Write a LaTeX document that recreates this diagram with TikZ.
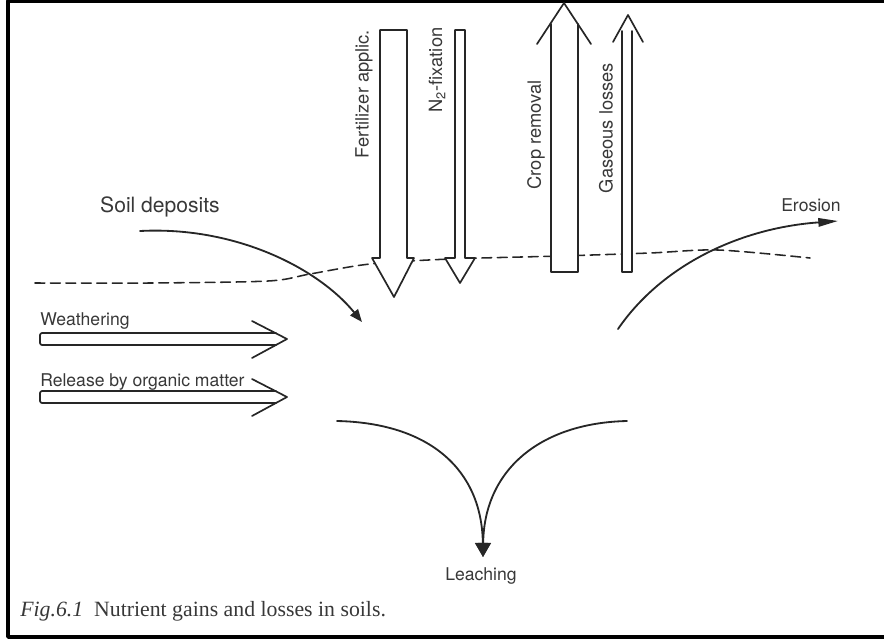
\documentclass[tikz,border=0pt]{standalone}
\usepackage{fontspec}
\setmainfont{TeX Gyre Heros}
\newfontfamily\capfont{Liberation Serif}
\usetikzlibrary{arrows.meta}
\definecolor{ink}{gray}{0.22}

\tikzset{
  lbl/.style={text=ink, font=\fontsize{12.5}{15}\selectfont, inner sep=0pt},
  vlbl/.style={lbl, rotate=90, font=\fontsize{13}{15}\selectfont},
  hollow/.style={draw=black!85, line width=1.2pt},
  flow/.style={black!85, line width=1.3pt, -{Triangle[length=9pt,width=7pt]}},
}

\begin{document}
\begin{tikzpicture}[x=0.025cm, y=-0.025cm, line join=round, line cap=round]
	\useasboundingbox (0,0) rectangle (884,640);
	% frame
	\draw[line width=2.4pt, line cap=butt] (884,1) -- (8,1) -- (8,637) -- (884,637);
	% soil surface
	\draw[black!85, line width=1.1pt, dash pattern=on 7pt off 4pt] plot[smooth, tension=0.5]
		coordinates {(35,283) (150,283) (268,281) (310,274) (370,264) (450,259) (560,256) (650,253) (718,250) (810,258)};
	% inputs from above
	\draw[hollow, fill=white] (380,30) -- (407,30) -- (407,258) -- (414,258) -- (394,297) -- (372,258) -- (380,258) -- cycle;
	\draw[hollow, fill=white] (455,30) -- (465,30) -- (465,258) -- (475,258) -- (460,283) -- (445,258) -- (455,258) -- cycle;
	% losses upwards
	\draw[hollow] (537,44) -- (564,3) -- (591,44);
	\draw[hollow, fill=white] (551,24) -- (551,272) -- (578,272) -- (578,24);
	\draw[hollow] (613,42) -- (628,15) -- (643,42);
	\draw[hollow, fill=white] (622,31) -- (622,272) -- (632,272) -- (632,31);
	% inputs from the side
	\draw[hollow] (252,321) -- (287,339) -- (252,358);
	\draw[hollow, rounded corners=1.5pt] (276,333) -- (40,333) -- (40,345) -- (276,345);
	\draw[hollow] (252,379) -- (287,397) -- (252,416);
	\draw[hollow, rounded corners=1.5pt] (276,391) -- (40,391) -- (40,403) -- (276,403);
	% labels
	\node[lbl, font=\fontsize{15}{18}\selectfont] (soil) at (160,207) {Soil deposits};
	\node[lbl, anchor=west] (weath) at (40,321) {Weathering};
	\node[lbl, anchor=west] (release) at (40,382) {Release by organic matter};
	\node[lbl] (eros) at (811,205) {Erosion};
	\node[lbl] (leach) at (481,576) {Leaching};
	\node[vlbl] (fert) at (364,94) {Fertilizer applic.};
	\node[vlbl] (nfix) at (437,70) {N\textsubscript{2}-fixation};
	\node[vlbl] (crop) at (536,135) {Crop removal};
	\node[vlbl] (gas) at (606,128) {Gaseous losses};
	% curved flows
	\coordinate (soilA) at (140,231);
	\coordinate (soilB) at (362,322);
	\coordinate (erosA) at (618,329);
	\coordinate (erosB) at (838,221);
	\coordinate (leachL) at (337,421);
	\coordinate (leachR) at (627,421);
	\coordinate (leachB) at (483,557);
	\draw[flow] (soilA) .. controls (235,226) and (318,268) .. (soilB);
	\draw[flow, -{Triangle[length=14pt,width=6pt]}] (erosA) .. controls (662,265) and (740,228) .. (erosB);
	\draw[flow, -{Triangle[length=10pt,width=11pt]}] (leachL) .. controls (430,423) and (482,470) .. (leachB);
	\draw[flow, -{Triangle[length=10pt,width=11pt]}] (leachR) .. controls (540,423) and (484,470) .. (leachB);
	% caption
	\node[anchor=west, inner sep=0pt, text=ink, font=\capfont\fontsize{15.5}{18}\selectfont] (cap) at (20,611)
		{{\itshape Fig.6.1}\ \ Nutrient gains and losses in soils.};
\end{tikzpicture}
\end{document}
